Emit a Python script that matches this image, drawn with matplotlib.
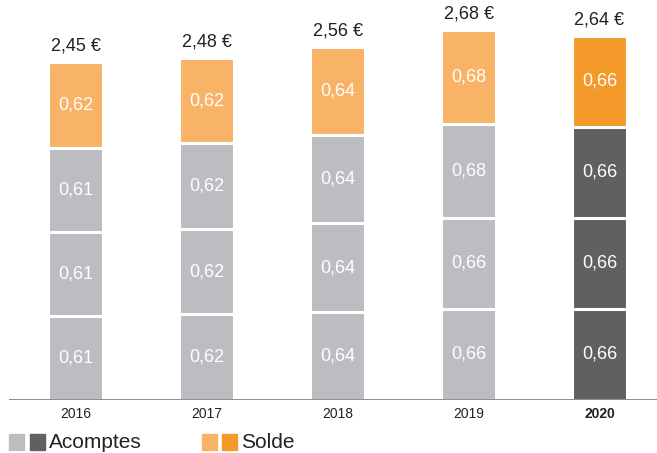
import matplotlib
matplotlib.use("Agg")
import matplotlib.pyplot as plt
from matplotlib.patches import Rectangle

plt.rcParams['font.family'] = ['Liberation Sans', 'DejaVu Sans']

years = ["2016", "2017", "2018", "2019", "2020"]
acompte_1 = [0.61, 0.62, 0.64, 0.66, 0.66]
acompte_2 = [0.61, 0.62, 0.64, 0.66, 0.66]
acompte_3 = [0.61, 0.62, 0.64, 0.68, 0.66]
solde = [0.62, 0.62, 0.64, 0.68, 0.66]
totals = ["2,45 €", "2,48 €", "2,56 €", "2,68 €", "2,64 €"]

grey_light = "#BCBDC0"
grey_dark = "#606062"
orange_light = "#F9B366"
orange_dark = "#F39A2A"

fig = plt.figure(figsize=(6.57, 4.53), dpi=100)
ax = fig.add_axes([9 / 657, 1 - 400 / 453, 648 / 657, 400 / 453])

x = list(range(len(years)))
width = 0.42
bottoms = [0.0] * len(years)
segments = [acompte_1, acompte_2, acompte_3, solde]
for s, vals in enumerate(segments):
    for i, v in enumerate(vals):
        last = i == len(years) - 1
        if s < 3:
            col = grey_dark if last else grey_light
        else:
            col = orange_dark if last else orange_light
        ax.bar(i, v, width=width, bottom=bottoms[i], color=col,
               edgecolor="white", linewidth=2.2, zorder=2)
        ax.text(i, bottoms[i] + v / 2, f"{v:.2f}".replace(".", ","),
                ha="center", va="center", color="white", fontsize=13, zorder=3)
        bottoms[i] += v

for i, t in enumerate(totals):
    ax.text(i, bottoms[i] + 0.055, t, ha="center", va="bottom",
            color="#222222", fontsize=13, zorder=3)

ax.set_xlim(-0.508, 4.439)
ax.set_ylim(0, 2.90)
ax.axhline(0, color="#8C8C8C", linewidth=1.4, zorder=4)
for sp in ax.spines.values():
    sp.set_visible(False)
ax.set_yticks([])
ax.set_xticks(x)
ax.set_xticklabels(years, fontsize=10, color="#222222")
ax.tick_params(axis="x", length=0, pad=5)
ax.get_xticklabels()[-1].set_fontweight("bold")

# legend drawn in figure pixels
def fig_rect(px, py, w, h, color):
    fig.patches.append(Rectangle((px / 657, 1 - (py + h) / 453), w / 657, h / 453,
                                 transform=fig.transFigure, color=color))

fig_rect(9, 434, 15, 16, grey_light)
fig_rect(30, 434, 15, 16, grey_dark)
fig.text(49 / 657, 1 - 443 / 453, "Acomptes", fontsize=15, color="#222222",
         va="center", ha="left")
fig_rect(202, 434, 15, 16, orange_light)
fig_rect(222, 434, 15, 16, orange_dark)
fig.text(241 / 657, 1 - 443 / 453, "Solde", fontsize=15, color="#222222",
         va="center", ha="left")

fig.savefig("out.png", dpi=100)
